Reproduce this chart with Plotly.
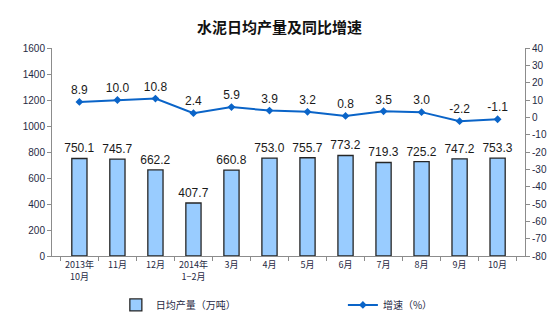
import plotly.graph_objects as go

# Monthly cement output (daily average) and year-on-year growth
months = ["2013年<br>10月", "11月", "12月", "2014年<br>1−2月", "3月", "4月",
          "5月", "6月", "7月", "8月", "9月", "10月"]
daily_output = [750.1, 745.7, 662.2, 407.7, 660.8, 753.0,
                755.7, 773.2, 719.3, 725.2, 747.2, 753.3]
growth = [8.9, 10.0, 10.8, 2.4, 5.9, 3.9, 3.2, 0.8, 3.5, 3.0, -2.2, -1.1]
growth_ticks = [40, 30, 20, 10, 0, -10, -20, -30, -40, -50, -60, -70, -80]

cjk = "Noto Sans CJK SC"
num = "Liberation Sans"
tick_color = "#1f2a44"
axis_color = "#8c8c8c"

fig = go.Figure()

fig.add_trace(go.Bar(
    x=months, y=daily_output, name="日均产量（万吨）",
    marker=dict(color="#99ccff", line=dict(color="#262626", width=1.3)),
    width=0.4,
    text=[f"{v:.1f}" for v in daily_output], textposition="outside",
    constraintext="none",
    textfont=dict(family=num, size=12, color="#1a1a1a"),
    cliponaxis=False,
    legend="legend",
))

fig.add_trace(go.Scatter(
    x=months, y=growth, name="增速（%）", yaxis="y2",
    mode="lines+markers+text",
    line=dict(color="#0a64c8", width=2),
    marker=dict(symbol="diamond", size=6, color="#0a64c8"),
    text=[f"{v:.1f}" for v in growth], textposition="top center",
    textfont=dict(family=num, size=12, color="#1a1a1a"),
    cliponaxis=False,
    legend="legend2",
))

fig.update_layout(
    width=559, height=332,
    margin=dict(l=52, r=31, t=48, b=76),
    paper_bgcolor="white", plot_bgcolor="white",
    title=dict(text="<b>水泥日均产量及同比增速</b>", x=0.5, xanchor="center",
               y=0.915, yanchor="middle",
               font=dict(family=cjk, size=15, color="#111111")),
    xaxis=dict(
        showline=True, linecolor=axis_color, linewidth=1,
        ticks="outside", tickson="boundaries", ticklen=4, tickcolor=axis_color,
        tickfont=dict(family=cjk, size=9, color=tick_color),
        showgrid=False, tickangle=0,
    ),
    yaxis=dict(
        range=[0, 1600], dtick=200,
        showline=True, linecolor=axis_color, linewidth=1,
        ticks="outside", ticklen=4, tickcolor=axis_color,
        tickfont=dict(family=num, size=10, color=tick_color),
        showgrid=False, zeroline=False,
    ),
    yaxis2=dict(
        range=[-80, 40], tickmode="array", tickvals=growth_ticks,
        ticktext=[str(t) for t in growth_ticks],
        overlaying="y", side="right",
        showline=True, linecolor=axis_color, linewidth=1,
        ticks="outside", ticklen=4, tickcolor=axis_color,
        tickfont=dict(family=num, size=10, color=tick_color),
        showgrid=False, zeroline=False,
    ),
    legend=dict(
        x=0.135, y=-0.235, xanchor="left", yanchor="middle",
        xref="paper", yref="paper", orientation="h",
        font=dict(family=cjk, size=10, color=tick_color),
        bgcolor="rgba(0,0,0,0)",
    ),
    legend2=dict(
        x=0.615, y=-0.235, xanchor="left", yanchor="middle",
        xref="paper", yref="paper", orientation="h",
        font=dict(family=cjk, size=10, color=tick_color),
        bgcolor="rgba(0,0,0,0)",
    ),
    showlegend=True,
    bargap=0.6,
)

fig.write_html("out.html")
